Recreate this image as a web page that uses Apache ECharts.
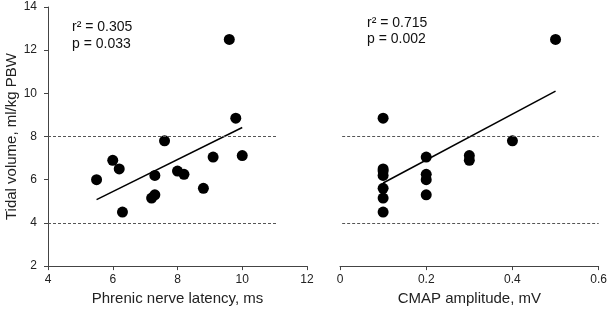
<!DOCTYPE html>
<html>
<head>
<meta charset="utf-8">
<script src="https://cdn.jsdelivr.net/npm/echarts@6/dist/echarts.min.js"></script>
<style>
  html, body { margin: 0; padding: 0; background: #fff; }
  #chart { width: 610px; height: 311px; }
</style>
</head>
<body>
<div id="chart"></div>
<script>
// phrenic nerve latency (ms) vs tidal volume
const latency = [5.5, 6.0, 6.2, 6.3, 7.6, 7.3, 7.2, 7.3, 8.0, 8.2, 8.8, 9.1, 9.6, 9.8, 10.0];
const tvLatency = [6.0, 6.9, 6.5, 4.5, 7.8, 6.2, 5.15, 5.3, 6.4, 6.25, 5.6, 7.05, 12.5, 8.85, 7.12];
// CMAP amplitude (mV) vs tidal volume
const cmap = [0.1, 0.1, 0.1, 0.1, 0.1, 0.1, 0.1, 0.2, 0.2, 0.2, 0.2, 0.3, 0.3, 0.4, 0.5];
const tvCmap = [8.85, 6.5, 6.4, 6.2, 5.6, 5.15, 4.5, 7.05, 6.25, 6.0, 5.3, 7.12, 6.9, 7.8, 12.5];
// regression lines (end points)
const regLatX = [5.5, 10.0];
const regLatY = [5.08, 8.42];
const regCmapX = [0.1, 0.5];
const regCmapY = [5.85, 10.1];
// reference lines
const refY = [4, 8];
const refLatX = [4, 11.1];
const refCmapX = [0.005, 0.6];
// stats
const statsLat = ['r\u00b2 = 0.305', 'p = 0.033'];
const statsCmap = ['r\u00b2 = 0.715', 'p = 0.002'];

const font = 'Liberation Sans, Arial, sans-serif';
const axisColor = '#444';

function pairs(xs, ys) {
  return xs.map((x, i) => [x, ys[i]]);
}
function refLines(xr) {
  return refY.map(y => [{ coord: [xr[0], y] }, { coord: [xr[1], y] }]);
}
function xAxisCfg(idx, min, max, interval, name) {
  return {
    gridIndex: idx,
    type: 'value',
    min: min,
    max: max,
    interval: interval,
    name: name,
    nameLocation: 'middle',
    nameGap: 24,
    nameTextStyle: { fontFamily: font, fontSize: 15, color: '#222' },
    axisLine: { show: true, onZero: false, lineStyle: { color: axisColor, width: 1 } },
    axisTick: { show: true, length: 4, lineStyle: { color: axisColor } },
    axisLabel: { fontFamily: font, fontSize: 12, color: '#222', margin: 8 },
    splitLine: { show: false }
  };
}

const myChart = echarts.init(document.getElementById('chart'));
const option = {
  backgroundColor: '#fff',
  animation: false,
  grid: [
    { left: 48, top: 7, width: 259, height: 260 },
    { left: 340, top: 7, width: 262, height: 260 }
  ],
  xAxis: [
    xAxisCfg(0, 4, 12, 2, 'Phrenic nerve latency, ms'),
    xAxisCfg(1, 0, 0.6, 0.2, 'CMAP amplitude, mV')
  ],
  yAxis: [
    {
      gridIndex: 0,
      type: 'value',
      min: 2,
      max: 14,
      interval: 2,
      name: 'Tidal volume, ml/kg PBW',
      nameLocation: 'middle',
      nameGap: 28,
      nameTextStyle: { fontFamily: font, fontSize: 15, color: '#222' },
      axisLine: { show: true, onZero: false, lineStyle: { color: axisColor, width: 1 } },
      axisTick: { show: true, length: 4, lineStyle: { color: axisColor } },
      axisLabel: { fontFamily: font, fontSize: 12, color: '#222', margin: 11 },
      splitLine: { show: false }
    },
    {
      gridIndex: 1,
      type: 'value',
      min: 2,
      max: 14,
      interval: 2,
      axisLine: { show: false },
      axisTick: { show: false },
      axisLabel: { show: false },
      splitLine: { show: false }
    }
  ],
  graphic: [
    { type: 'text', left: 72, top: 19, style: { text: statsLat.join('\n'), font: '14px ' + font, fill: '#111', lineHeight: 17 } },
    { type: 'text', left: 367, top: 15, style: { text: statsCmap.join('\n'), font: '14px ' + font, fill: '#111', lineHeight: 16 } }
  ],
  series: [
    {
      type: 'line',
      xAxisIndex: 0,
      yAxisIndex: 0,
      data: pairs(regLatX, regLatY),
      symbol: 'none',
      lineStyle: { color: '#000', width: 1.5 },
      markLine: {
        silent: true,
        symbol: 'none',
        label: { show: false },
        lineStyle: { color: '#555', type: [3, 2], width: 1 },
        data: refLines(refLatX)
      },
      z: 3
    },
    {
      type: 'scatter',
      xAxisIndex: 0,
      yAxisIndex: 0,
      data: pairs(latency, tvLatency),
      symbol: 'circle',
      symbolSize: 11,
      itemStyle: { color: '#000', opacity: 1 },
      z: 4
    },
    {
      type: 'line',
      xAxisIndex: 1,
      yAxisIndex: 1,
      data: pairs(regCmapX, regCmapY),
      symbol: 'none',
      lineStyle: { color: '#000', width: 1.5 },
      markLine: {
        silent: true,
        symbol: 'none',
        label: { show: false },
        lineStyle: { color: '#555', type: [3, 2], width: 1 },
        data: refLines(refCmapX)
      },
      z: 3
    },
    {
      type: 'scatter',
      xAxisIndex: 1,
      yAxisIndex: 1,
      data: pairs(cmap, tvCmap),
      symbol: 'circle',
      symbolSize: 11,
      itemStyle: { color: '#000', opacity: 1 },
      z: 4
    }
  ]
};
myChart.setOption(option);
</script>
</body>
</html>
